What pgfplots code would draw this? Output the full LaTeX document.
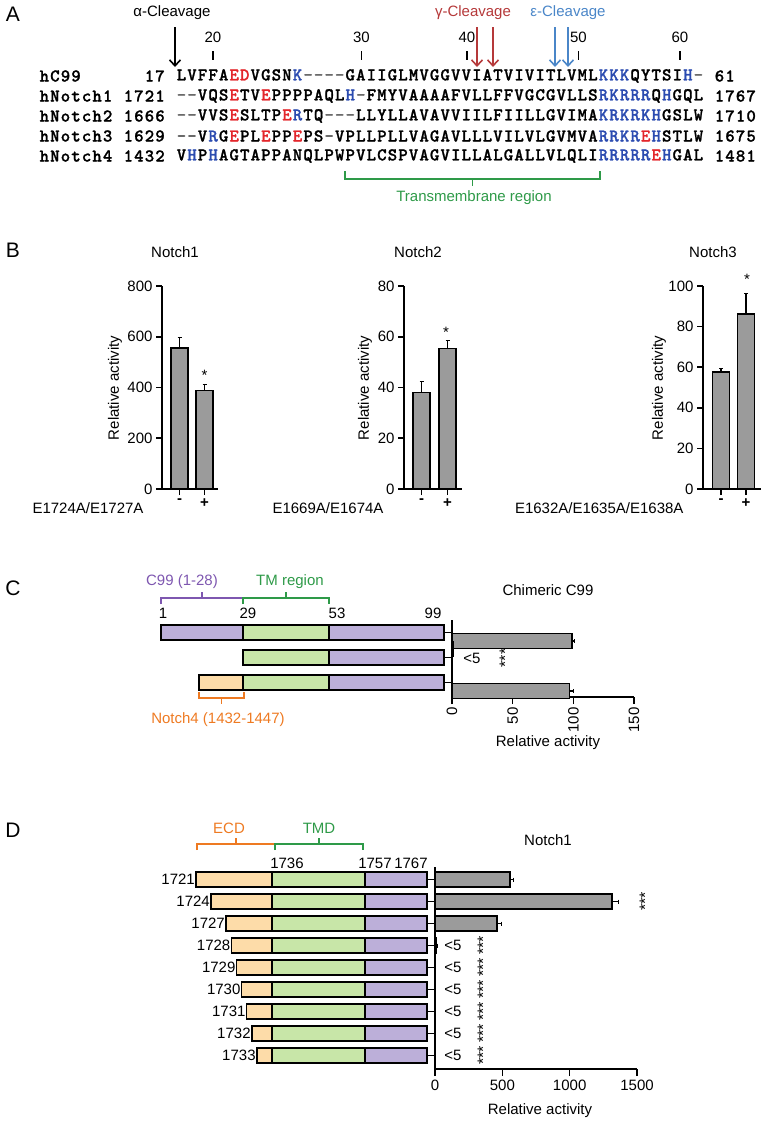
\documentclass[border=0pt]{standalone}
\usepackage{pgfplots}
\pgfplotsset{compat=1.18}
\usepackage{pgfplotstable}
\usepackage{fontspec}
\setmainfont{Liberation Sans}
\newfontfamily\seqfont{lmmonolt10-bold.otf}[FakeBold=1.2]
\usetikzlibrary{arrows.meta}
\definecolor{seqred}{HTML}{E3262B}
\definecolor{seqblue}{HTML}{2B4BB0}
\definecolor{seqgray}{HTML}{6A6A6A}
\definecolor{gamred}{HTML}{B5393A}
\definecolor{epsblue}{HTML}{4A86C8}
\definecolor{tmgreen}{HTML}{2E9A48}
\definecolor{brpurp}{HTML}{7E57B0}
\definecolor{brorange}{HTML}{EE7A22}
\definecolor{purp}{HTML}{BCAFD9}
\definecolor{grn}{HTML}{C8E6A8}
\definecolor{orng}{HTML}{FDDCA9}
\definecolor{barg}{HTML}{9B9B9B}

\newlength\cw \setlength\cw{10.55pt}
\ExplSyntaxOn
\NewDocumentCommand\qq{mm}{\tl_map_inline:nn{#2}{\makebox[\cw][c]{\textcolor{#1}{##1}}}}
\ExplSyntaxOff
\newcommand\qk[1]{\qq{black}{#1}}
\newcommand\qr[1]{\qq{seqred}{#1}}
\newcommand\qb[1]{\qq{seqblue}{#1}}
\newcommand\qg[1]{\qq{seqgray}{#1}}
\newcommand\seqf{\fontsize{18}{18}\selectfont\seqfont}
\newcommand\lab{\fontsize{15}{15}\selectfont}
\newcommand\panel{\fontsize{21}{21}\selectfont}
\newcommand\stars{\fontsize{16}{16}\selectfont}

\pgfplotstableread{
y off pa or gr pb
-632.5 161 82 0 86 115
-657.5 243 0 0 86 115
-682.5 199 0 44 86 115
-879.5 196 0 76 93 62
-901.5 211 0 61 93 62
-923.5 226 0 46 93 62
-945.5 231.5 0 40.5 93 62
-967.5 236.6 0 35.4 93 62
-989.5 241.6 0 30.4 93 62
-1011.5 246.7 0 25.3 93 62
-1033.5 251.8 0 20.2 93 62
-1055.5 256.8 0 15.2 93 62
}\schem

\pgfplotsset{
  prism/.style={scale only axis, axis lines=left, axis line style={line width=1.6pt,-},
    tick style={black,line width=1.6pt}, major tick length=6pt, tick align=outside,
    enlargelimits=false, clip=false,
    every tick label/.append style={font=\lab},
    /pgf/number format/assume math mode=true, /pgf/number format/1000 sep={}},
  bstyle/.style={fill=barg, draw=black, line width=1.6pt},
  segl/.style={draw=black, line width=1.4pt},
}
\tikzset{
  carrow/.style={line width=1.6pt,-{Straight Barb[length=6pt,width=11pt]}},
  br/.style={line width=1.4pt},
}

\begin{document}
\begin{tikzpicture}
\path[use as bounding box] (0,0) rectangle (763pt,-1122pt);

% ---- schematic constructs (C and D), pixel coordinates
\begin{axis}[scale only axis, hide axis, clip=false, at={(0pt,0pt)}, anchor=north west,
  width=763pt, height=1122pt, xmin=0, xmax=763, ymin=-1122, ymax=0,
  xbar stacked, bar width=15pt]
\addplot[draw=none, fill=none] table[x=off,y=y]{\schem};
\addplot[segl, fill=purp] table[x=pa,y=y]{\schem};
\addplot[segl, fill=orng] table[x=or,y=y]{\schem};
\addplot[segl, fill=grn] table[x=gr,y=y]{\schem};
\addplot[segl, fill=purp] table[x=pb,y=y]{\schem};
\end{axis}

% ---- B: Notch1
\begin{axis}[prism, ybar, bar width=17pt, at={(162pt,-489pt)}, anchor=south west,
  width=56pt, height=203pt, xmin=-0.7, xmax=1.54, ymin=0, ymax=800, ytick={0,200,...,800},
  xtick={0,1}, xticklabels={\textbf{-},\textbf{+}}]
\addplot[bstyle, error bars/.cd, y dir=plus, y explicit, error bar style={line width=1.6pt,black}]
  coordinates {(0,556) +- (0,44) (1,388) +- (0,26)};
\end{axis}
% ---- B: Notch2
\begin{axis}[prism, ybar, bar width=17pt, at={(404pt,-489pt)}, anchor=south west,
  width=58pt, height=203pt, xmin=-0.68, xmax=1.56, ymin=0, ymax=80, ytick={0,20,...,80},
  xtick={0,1}, xticklabels={\textbf{-},\textbf{+}}]
\addplot[bstyle, error bars/.cd, y dir=plus, y explicit, error bar style={line width=1.6pt,black}]
  coordinates {(0,38) +- (0,4.5) (1,55.4) +- (0,3.2)};
\end{axis}
% ---- B: Notch3
\begin{axis}[prism, ybar, bar width=17pt, at={(703pt,-489pt)}, anchor=south west,
  width=58pt, height=203pt, xmin=-0.72, xmax=1.6, ymin=0, ymax=100, ytick={0,20,...,100},
  xtick={0,1}, xticklabels={\textbf{-},\textbf{+}}]
\addplot[bstyle, error bars/.cd, y dir=plus, y explicit, error bar style={line width=1.6pt,black}]
  coordinates {(0,57.5) +- (0,2) (1,86.3) +- (0,10)};
\end{axis}

% ---- C: chimeric C99 activity
\begin{axis}[prism, xbar, bar width=15pt, at={(452pt,-697pt)}, anchor=south west,
  width=182pt, height=77pt, xmin=0, xmax=150, ymin=-697, ymax=-620,
  xtick={0,50,100,150}, ytick={-632.5,-657.5,-682.5}, yticklabels={}, major tick length=7pt,
  xticklabel style={rotate=90, anchor=east}]
\addplot[bstyle, error bars/.cd, x dir=plus, x explicit, error bar style={line width=1.6pt,black}]
  coordinates {(99,-632.5) +- (2,0) (97,-682.5) +- (3,0)};
\addplot[bstyle] coordinates {(1,-657.5)};
\end{axis}

% ---- D: Notch1 truncations activity
\begin{axis}[prism, xbar, bar width=15pt, at={(435pt,-1069pt)}, anchor=south west,
  width=202pt, height=202pt, xmin=0, xmax=1500, ymin=-1069, ymax=-867,
  xtick={0,500,1000,1500},
  ytick={-879.5,-901.5,-923.5,-945.5,-967.5,-989.5,-1011.5,-1033.5,-1055.5}, yticklabels={},
  major tick length=7pt]
\addplot[bstyle, error bars/.cd, x dir=plus, x explicit, error bar style={line width=1.6pt,black}]
  coordinates {(556,-879.5) +- (24,0) (1314,-901.5) +- (46,0) (462,-923.5) +- (28,0) (10,-945.5) +- (6,0)};
\end{axis}

\begin{scope}[x=1pt,y=-1pt]
% ===== Panel A
\node[font=\panel] at (13,14) {A};
\node[font=\lab] at (172,13) {α-Cleavage};
\node[font=\lab, text=gamred] at (473,13) {γ-Cleavage};
\node[font=\lab, text=epsblue] at (568,13) {ε-Cleavage};
\draw[carrow] (175,27) -- (175,67);
\draw[carrow, gamred] (477,27) -- (477,67);
\draw[carrow, gamred] (493,27) -- (493,67);
\draw[carrow, epsblue] (555,27) -- (555,67);
\draw[carrow, epsblue] (568,27) -- (568,67);
\foreach \xx/\nn in {212.9/20, 361.4/30, 466.9/40, 578.4/50, 679.9/60}{
  \node[font=\lab] at (\xx,37) {\nn};
  \draw[line width=1.6pt] (\xx,51) -- (\xx,60);
}
\begin{scope}[every node/.style={inner sep=0pt, font=\seqf}]
\node[anchor=west] at (38.9,76) {\qk{hC99}};
\node[anchor=east] at (165.5,76) {\qk{17}};
\node[anchor=west] at (176,76) {\qk{LVFFA}\qr{ED}\qk{VGSN}\qb{K}\qg{----}\qk{GAIIGLMVGGVVIATVIVITLVML}\qb{KKK}\qk{QYTSI}\qb{H}\qg{-}};
\node[anchor=west] at (714,76) {\qk{61}};
\node[anchor=west] at (38.9,96) {\qk{hNotch1}};
\node[anchor=east] at (165.5,96) {\qk{1721}};
\node[anchor=west] at (176,96) {\qg{--}\qk{VQS}\qr{E}\qk{TV}\qr{E}\qk{PPPPAQL}\qb{H}\qg{-}\qk{FMYVAAAAFVLLFFVGCGVLLS}\qb{RKRRR}\qk{Q}\qb{H}\qk{GQL}};
\node[anchor=west] at (714,96) {\qk{1767}};
\node[anchor=west] at (38.9,116) {\qk{hNotch2}};
\node[anchor=east] at (165.5,116) {\qk{1666}};
\node[anchor=west] at (176,116) {\qg{--}\qk{VVS}\qr{E}\qk{SLTP}\qr{E}\qb{R}\qk{TQ}\qg{---}\qk{LLYLLAVAVVIILFIILLGVIMA}\qb{KRKRKH}\qk{GSLW}};
\node[anchor=west] at (714,116) {\qk{1710}};
\node[anchor=west] at (38.9,136) {\qk{hNotch3}};
\node[anchor=east] at (165.5,136) {\qk{1629}};
\node[anchor=west] at (176,136) {\qg{--}\qk{V}\qb{R}\qk{G}\qr{E}\qk{PL}\qr{E}\qk{PP}\qr{E}\qk{PS}\qg{-}\qk{VPLLPLLVAGAVLLLVILVLGVMVA}\qb{RRKR}\qr{E}\qb{H}\qk{STLW}};
\node[anchor=west] at (714,136) {\qk{1675}};
\node[anchor=west] at (38.9,156) {\qk{hNotch4}};
\node[anchor=east] at (165.5,156) {\qk{1432}};
\node[anchor=west] at (176,156) {\qk{V}\qb{H}\qk{P}\qb{H}\qk{AGTAPPANQLPWPVLCSPVAGVILLALGALLVLQLI}\qb{RRRRR}\qr{E}\qb{H}\qk{GAL}};
\node[anchor=west] at (714,156) {\qk{1481}};
\end{scope}
\draw[br, tmgreen] (345,171) -- (345,179) -- (600,179) -- (600,171);
\draw[br, tmgreen] (472.5,179) -- (472.5,186);
\node[font=\lab, text=tmgreen] at (474,198) {Transmembrane region};

% ===== Panel B
\node[font=\panel] at (13,250) {B};
\node[font=\lab] at (175,252) {Notch1};
\node[font=\lab] at (418,252) {Notch2};
\node[font=\lab] at (713,252) {Notch3};
\node[font=\lab, rotate=90] at (115,388) {Relative activity};
\node[font=\lab, rotate=90] at (365,388) {Relative activity};
\node[font=\lab, rotate=90] at (659,388) {Relative activity};
\node[font=\lab, anchor=east] at (147,508) {E1724A/E1727A};
\node[font=\lab, anchor=east] at (387,508) {E1669A/E1674A};
\node[font=\lab, anchor=east] at (687,508) {E1632A/E1635A/E1638A};
\node[font=\lab] at (204.5,375) {*};
\node[font=\lab] at (446,332) {*};
\node[font=\lab] at (747,279) {*};

% ===== Panel C
\node[font=\panel] at (13,588) {C};
\node[font=\lab, text=brpurp] at (182,582) {C99 (1-28)};
\node[font=\lab, text=tmgreen] at (290,582) {TM region};
\draw[br, brpurp] (161,604) -- (161,598) -- (243,598) -- (243,604);
\draw[br, brpurp] (202,598) -- (202,592);
\draw[br, tmgreen] (243,604) -- (243,598) -- (329,598) -- (329,604);
\draw[br, tmgreen] (286,598) -- (286,592);
\node[font=\lab] at (548,590) {Chimeric C99};
\node[font=\lab] at (163,613) {1};
\node[font=\lab] at (248,613) {29};
\node[font=\lab] at (337,613) {53};
\node[font=\lab] at (433,613) {99};
\node[font=\lab] at (472,658) {<5};
\node[font=\stars, rotate=90] at (505,658) {***};
\draw[br, brorange] (199,692) -- (199,698) -- (244,698) -- (244,692);
\draw[br, brorange] (221.5,698) -- (221.5,704);
\node[font=\lab, text=brorange] at (218,720) {Notch4 (1432-1447)};
\node[font=\lab] at (548,743) {Relative activity};

% ===== Panel D
\node[font=\panel] at (13,830) {D};
\node[font=\lab, text=brorange] at (229,828) {ECD};
\node[font=\lab, text=tmgreen] at (319,828) {TMD};
\draw[br, brorange] (197,850) -- (197,844) -- (275,844) -- (275,850);
\draw[br, brorange] (236,844) -- (236,838);
\draw[br, tmgreen] (275,850) -- (275,844) -- (363,844) -- (363,850);
\draw[br, tmgreen] (319,844) -- (319,838);
\node[font=\lab] at (548,840) {Notch1};
\node[font=\lab] at (287,863) {1736};
\node[font=\lab] at (375,863) {1757};
\node[font=\lab] at (411,863) {1767};
\foreach \xx/\yy/\nn in {196/879.5/1721, 211/901.5/1724, 226/923.5/1727, 231.5/945.5/1728,
   236.6/967.5/1729, 241.6/989.5/1730, 246.7/1011.5/1731, 251.8/1033.5/1732, 256.8/1055.5/1733}{
  \node[font=\lab, anchor=east, inner sep=1pt] at (\xx,\yy) {\nn};
}
\foreach \yy in {945.5,967.5,989.5,1011.5,1033.5,1055.5}{
  \node[font=\lab] at (453,\yy) {<5};
  \node[font=\stars, rotate=90] at (483,\yy) {***};
}
\node[font=\stars, rotate=90] at (645,901.5) {***};
\node[font=\lab] at (540,1111) {Relative activity};
\end{scope}
\end{tikzpicture}
\end{document}
